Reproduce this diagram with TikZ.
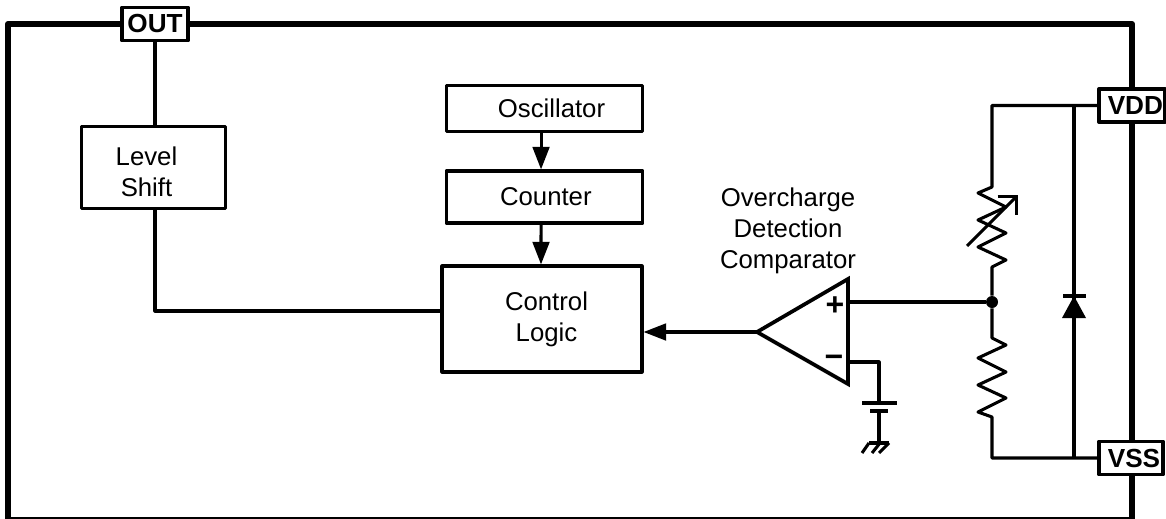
\documentclass[tikz,border=0pt]{standalone}
\usepackage{fontspec}
\setmainfont{Liberation Sans}
\usetikzlibrary{arrows.meta}
\tikzset{
  wire/.style={line width=2.3pt,line join=round},
  chipline/.style={line width=4.6pt,line join=round},
  flow/.style={wire,-{Triangle[length=17pt,width=12.5pt]}},
  blockbox/.style={draw,line width=2.3pt,line join=round,fill=white,inner sep=0pt,align=center,
    font=\fontsize{19.3pt}{23.25pt}\selectfont},
  pinbox/.style={draw,line width=2.6pt,line join=round,fill=white,inner sep=0pt,
    font=\fontsize{19.6pt}{23pt}\selectfont\bfseries},
  signbox/.style={inner sep=0pt,font=\fontsize{24pt}{24pt}\selectfont\bfseries}
}
\begin{document}
\begin{tikzpicture}[x=0.75pt,y=-0.75pt]
\useasboundingbox (0,0) rectangle (1166,518);
\draw [chipline] (8,24) rectangle (1132,520);

\node [pinbox,minimum width=49.5pt,minimum height=25pt] (out) at (155,24) {OUT};
\node [pinbox,minimum width=49.5pt,minimum height=25pt] (vdd) at (1132,105.5) {\hspace*{5pt}VDD};
\node [pinbox,minimum width=48pt,minimum height=25pt] (vss) at (1131,458) {\hspace*{4.5pt}VSS};

\node [blockbox,minimum width=108pt,minimum height=62pt] (level) at (153.5,167.5) {\rule{0pt}{20pt}Level\hspace*{10.5pt}\\Shift\hspace*{10.5pt}};
\node [blockbox,minimum width=147.5pt,minimum height=35pt] (osc) at (544.5,108.5) {\hspace*{10.5pt}Oscillator};
\node [blockbox,minimum width=147.5pt,minimum height=39pt] (counter) at (544.5,197) {\hspace*{2pt}Counter};
\node [blockbox,minimum width=150pt,minimum height=79.5pt] (logic) at (542,319) {\hspace*{6.75pt}Control\\\hspace*{6.75pt}Logic};

\node [blockbox,draw=none,fill=none] (cmplabel) at (788,231) {Overcharge\\Detection\\Comparator};

% comparator
\coordinate (cmpapex) at (757,332);
\coordinate (cmpplus) at (848,302);
\coordinate (cmpminus) at (848,362);
\draw [line width=2.8pt,line join=miter] (cmpapex) -- (848,279) -- (848,384) -- cycle;
\node [signbox] (plussign) at (835,306) {+};
\node [signbox] (minussign) at (834,361) {−};

\draw [flow] ([xshift=-2.6pt]osc.south) -- ([xshift=-2.6pt]counter.north);
\draw [flow] ([xshift=-2.6pt]counter.south) -- ([xshift=-0.75pt]logic.north);
\draw [flow] (cmpapex) -- (cmpapex -| logic.east);

\draw [wire] (out.south) -- (out.south |- level.north);
\draw [wire] (out.south |- level.south) |- ([yshift=6pt]logic.west);

% divider
\node [circle,fill,inner sep=0pt,minimum size=9pt] (jct) at (992,302) {};
\coordinate (r1top) at (992,187);
\coordinate (r1bot) at (992,267);
\coordinate (r2top) at (992,338);
\coordinate (r2bot) at (992,417);
\draw [wire] (cmpplus) -- (jct);
\draw [wire] (vdd.west) -| (r1top) -- (978,193) -- (1006,207) -- (978,220) -- (1006,233) -- (978,247) -- (1006,260) -- (r1bot) -- (jct);
\draw [wire] (jct) -- (r2top) -- (1006,345) -- (978,358) -- (1006,372) -- (978,385) -- (1006,398) -- (978,412) -- (r2bot) |- (vss.west);
\coordinate (trimlow) at (967,246);
\coordinate (trimhigh) at (1018,195);
\draw [wire,-{Straight Barb[length=10pt,width=20pt]}] (trimlow) -- (trimhigh);

% diode
\coordinate (dtop) at (1074,105.5);
\coordinate (dbot) at (1074,458);
\draw [wire] (dtop) -- (dbot);
\draw [wire] (1063,296) -- (1086,296);
\fill (1074,296) -- (1086,318) -- (1062,318) -- cycle;

% reference and ground
\coordinate (plate) at (879,403);
\coordinate (plateb) at (879,411);
\coordinate (gnd) at (879,443);
\draw [wire] (cmpminus) -| (plate);
\draw [wire] (862,403) -- (897,403);
\draw [wire] (870,411) -- (888,411);
\draw [wire] (plateb) -- (gnd);
\draw [wire] (869,443) -- (889,443);
\draw [wire] (869,443) -- (862,453);
\draw [wire] (880,443) -- (872,453);
\draw [wire] (889,443) -- (879,453);
\end{tikzpicture}
\end{document}
